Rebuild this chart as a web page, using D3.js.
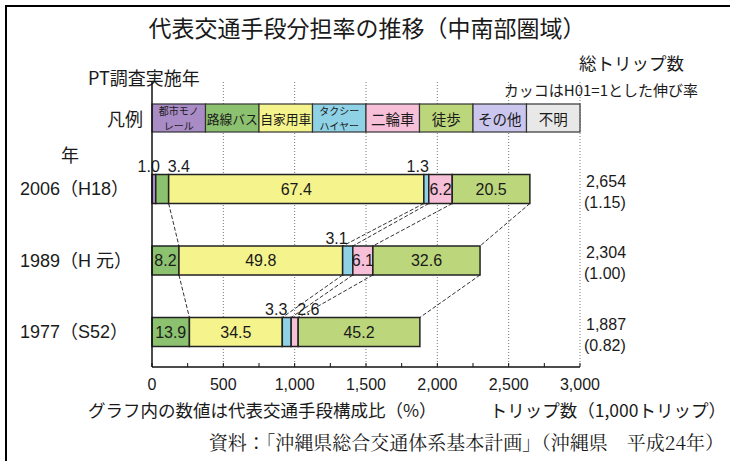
<!DOCTYPE html>
<html>
<head>
<meta charset="utf-8">
<script src="https://cdn.jsdelivr.net/npm/d3@7"></script>
<style>
  html, body { margin: 0; padding: 0; background: #fff; }
  svg { display: block; }
  text { font-family: "Liberation Sans", Arial, "Noto Sans CJK JP", sans-serif; fill: #1a1a1a; }
  .jp { font-family: "Noto Sans CJK JP", sans-serif; }
  .serif { font-family: "Noto Serif CJK JP", "Liberation Serif", "Noto Sans CJK JP", serif; }
</style>
</head>
<body>
<svg id="chart" width="730" height="461"></svg>
<script>
// modes (legend order) and colours
const modes = ['都市モノレール', '路線バス', '自家用車', 'タクシー・ハイヤー', '二輪車', '徒歩', 'その他', '不明'];
const legendLines = [['都市モノ', 'レール'], ['路線バス'], ['自家用車'], ['タクシー', 'ハイヤー'], ['二輪車'], ['徒歩'], ['その他'], ['不明']];
const modeColors = ['#a98bc6', '#8cc26f', '#f5f48c', '#8fd2e6', '#f7c0d8', '#bcd67c', '#cbc6ee', '#e8e8e8'];

// survey years, top to bottom
const years = ['2006（H18）', '1989（H 元）', '1977（S52）'];
const totalTrips = [2654, 2304, 1887];      // 1,000 trips
const growthRate = ['(1.15)', '(1.00)', '(0.82)'];

// modal share (%) per year, same order as modes
const share2006 = [1.0, 3.4, 67.4, 1.3, 6.2, 20.5, 0, 0];
const share1989 = [0, 8.2, 49.8, 3.1, 6.1, 32.6, 0, 0];
const share1977 = [0, 13.9, 34.5, 3.3, 2.6, 45.2, 0, 0];
const shares = [share2006, share1989, share1977];

const xTicks = [0, 500, 1000, 1500, 2000, 2500, 3000];
const minorTicks = d3.range(0, 3001, 250);

const svg = d3.select('#chart');
svg.append('rect').attr('width', 730).attr('height', 461).attr('fill', '#fff');

// outer frame (right/bottom edges run off the picture)
svg.append('rect')
  .attr('x', 6).attr('y', 6).attr('width', 740).attr('height', 470)
  .attr('fill', 'none').attr('stroke', '#000').attr('stroke-width', 2);

const x = d3.scaleLinear().domain([0, 3000]).range([152, 580]);
const y = d3.scalePoint().domain(years).range([189, 332]);
const barH = 29;
const axisTop = 82, axisY = 367;

// Title
svg.append('text')
  .attr('class', 'jp')
  .attr('x', 367).attr('y', 27)
  .attr('text-anchor', 'middle').attr('dominant-baseline', 'central')
  .attr('font-size', 23)
  .text('代表交通手段分担率の推移（中南部圏域）');

// header texts
svg.append('text').attr('class', 'jp')
  .attr('x', 88).attr('y', 77).attr('dominant-baseline', 'central')
  .attr('font-size', 18).text('PT調査実施年');
svg.append('text').attr('class', 'jp')
  .attr('x', 684).attr('y', 62).attr('text-anchor', 'end').attr('dominant-baseline', 'central')
  .attr('font-size', 17.5).text('総トリップ数');
svg.append('text').attr('class', 'jp')
  .attr('x', 698).attr('y', 89).attr('text-anchor', 'end').attr('dominant-baseline', 'central')
  .attr('font-size', 15).text('カッコはH01=1とした伸び率');
svg.append('text').attr('class', 'jp')
  .attr('x', 125).attr('y', 118).attr('text-anchor', 'middle').attr('dominant-baseline', 'central')
  .attr('font-size', 18).text('凡例');
svg.append('text').attr('class', 'jp')
  .attr('x', 70).attr('y', 154).attr('text-anchor', 'middle').attr('dominant-baseline', 'central')
  .attr('font-size', 18).text('年');

// gridlines
svg.append('g').selectAll('line')
  .data(xTicks.slice(1))
  .join('line')
  .attr('x1', d => x(d)).attr('x2', d => x(d))
  .attr('y1', axisTop).attr('y2', axisY)
  .attr('stroke', '#777').attr('stroke-width', 1).attr('stroke-dasharray', '1,2');

// legend: boxes take 1/8 of the axis each
const legendStep = 3000 / modes.length;
const legend = svg.append('g');
modes.forEach((m, i) => {
  const x0 = x(i * legendStep), x1 = x((i + 1) * legendStep);
  legend.append('rect')
    .attr('x', x0).attr('y', 104).attr('width', x1 - x0).attr('height', 28)
    .attr('fill', modeColors[i]).attr('stroke', '#333').attr('stroke-width', 1.2);
  const lines = legendLines[i];
  const fs = lines.length > 1 ? 10 : (lines[0].length > 3 ? 12.8 : 14.5);
  const t = legend.append('text').attr('class', 'jp')
    .attr('text-anchor', 'middle')
    .attr('font-size', fs);
  if (lines.length > 1) {
    t.attr('x', (x0 + x1) / 2).attr('y', 115);
    lines.forEach((s, j) => {
      t.append('tspan').attr('x', (x0 + x1) / 2).attr('dy', j === 0 ? 0 : 14.5).text(s);
    });
  } else {
    t.attr('x', (x0 + x1) / 2).attr('y', 118).attr('dominant-baseline', 'central').text(lines[0]);
  }
});

// stacked segments
const stacked = shares.map((s, yi) => {
  let acc = 0;
  return s.map((p, mi) => {
    const v = totalTrips[yi] * p / 100;
    const seg = { year: years[yi], mode: mi, pct: p, v0: acc, v1: acc + v };
    acc += v;
    return seg;
  });
});

// dashed connectors between bars at mode boundaries
const linkModes = [1, 2, 3, 4, 5];
const links = svg.append('g');
for (let yi = 0; yi < years.length - 1; yi++) {
  linkModes.forEach(mi => {
    links.append('line')
      .attr('x1', x(stacked[yi][mi].v1)).attr('y1', y(years[yi]) + barH / 2)
      .attr('x2', x(stacked[yi + 1][mi].v1)).attr('y2', y(years[yi + 1]) - barH / 2)
      .attr('stroke', '#333').attr('stroke-width', 1).attr('stroke-dasharray', '4,2');
  });
}

const bars = svg.append('g');
stacked.forEach(row => {
  bars.selectAll(null)
    .data(row.filter(d => d.pct > 0))
    .join('rect')
    .attr('x', d => x(d.v0))
    .attr('y', d => y(d.year) - barH / 2)
    .attr('width', d => x(d.v1) - x(d.v0))
    .attr('height', barH)
    .attr('fill', d => modeColors[d.mode])
    .attr('stroke', '#222').attr('stroke-width', 1.5);
});

// value labels
const labels = svg.append('g');
stacked.forEach(row => {
  row.filter(d => d.pct > 0).forEach(d => {
    const x0 = x(d.v0), x1 = x(d.v1);
    const cy = y(d.year);
    const t = labels.append('text').attr('font-size', 16).text(d.pct.toFixed(1));
    if (x1 - x0 < 16) {
      // small segments: label above the bar
      t.attr('y', cy - barH / 2 - 8).attr('dominant-baseline', 'central');
      if (d.mode === 0) t.attr('x', x1 + 4).attr('text-anchor', 'end');
      else if (d.mode === 3) t.attr('x', x0 + 5).attr('text-anchor', 'end');
      else t.attr('x', x1 - 1).attr('text-anchor', 'start');
    } else {
      t.attr('x', (x0 + x1) / 2).attr('y', cy).attr('text-anchor', 'middle').attr('dominant-baseline', 'central');
    }
  });
});

// axes
svg.append('line').attr('x1', x(0)).attr('x2', x(0)).attr('y1', axisTop).attr('y2', axisY)
  .attr('stroke', '#111').attr('stroke-width', 1.5);
svg.append('line').attr('x1', x(0)).attr('x2', x(3000)).attr('y1', axisY).attr('y2', axisY)
  .attr('stroke', '#111').attr('stroke-width', 1.5);
svg.append('g').selectAll('line').data(minorTicks).join('line')
  .attr('x1', d => x(d)).attr('x2', d => x(d))
  .attr('y1', axisY).attr('y2', axisY - 4)
  .attr('stroke', '#111').attr('stroke-width', 1);
svg.append('g').selectAll('text').data(xTicks).join('text')
  .attr('x', d => x(d)).attr('y', 384)
  .attr('text-anchor', 'middle').attr('dominant-baseline', 'central')
  .attr('font-size', 16)
  .text(d => d3.format(',')(d));

// year labels
svg.append('g').selectAll('text').data(years).join('text')
  .attr('x', 20).attr('y', d => y(d))
  .attr('dominant-baseline', 'central').attr('font-size', 18)
  .text(d => d);

// totals and growth
years.forEach((yr, i) => {
  svg.append('text').attr('x', 586).attr('y', y(yr) - 8)
    .attr('dominant-baseline', 'central').attr('font-size', 16)
    .text(d3.format(',')(totalTrips[i]));
  svg.append('text').attr('x', 584).attr('y', y(yr) + 13)
    .attr('dominant-baseline', 'central').attr('font-size', 16)
    .text(growthRate[i]);
});

// notes
svg.append('text').attr('class', 'jp')
  .attr('x', 88).attr('y', 409).attr('dominant-baseline', 'central').attr('font-size', 17.5)
  .text('グラフ内の数値は代表交通手段構成比（%）');
svg.append('text').attr('class', 'jp')
  .attr('x', 726).attr('y', 409).attr('text-anchor', 'end').attr('dominant-baseline', 'central').attr('font-size', 17.5)
  .text('トリップ数（1,000トリップ）');
svg.append('text').attr('class', 'serif')
  .attr('x', 724).attr('y', 441).attr('text-anchor', 'end').attr('dominant-baseline', 'central').attr('font-size', 19)
  .text('資料：「沖縄県総合交通体系基本計画」（沖縄県　平成24年）');
</script>
</body>
</html>
